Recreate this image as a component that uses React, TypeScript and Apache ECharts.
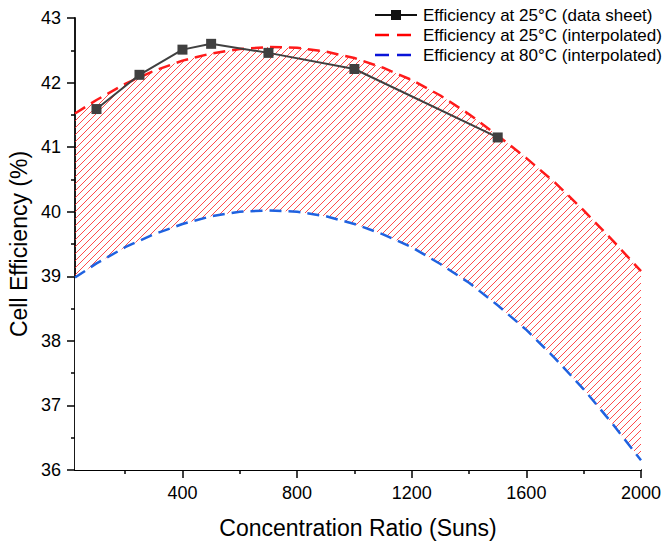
import React, { useEffect, useRef } from "react";
import * as echarts from "echarts";

// ---- data ----
const curveX = [25, 100, 200, 300, 400, 500, 600, 700, 800, 900, 1000, 1100, 1200, 1300, 1400, 1500, 1600, 1700, 1800, 1900, 2000];
const eff25Interp = [41.52, 41.73, 41.98, 42.18, 42.34, 42.45, 42.52, 42.55, 42.54, 42.48, 42.38, 42.23, 42.04, 41.8, 41.51, 41.18, 40.83, 40.45, 40.02, 39.56, 39.08];
const eff80Interp = [38.98, 39.2, 39.45, 39.65, 39.81, 39.93, 40.0, 40.02, 40.0, 39.93, 39.81, 39.65, 39.45, 39.19, 38.9, 38.55, 38.17, 37.73, 37.25, 36.72, 36.15];
const sheetX = [100, 250, 400, 500, 700, 1000, 1500];
const sheetEff = [41.59, 42.12, 42.51, 42.6, 42.46, 42.21, 41.15];
const xMajorTicks = [400, 800, 1200, 1600, 2000];
const xMinorTicks = [200, 600, 1000, 1400, 1800];
const seriesNames = [
  "Efficiency at 25°C (data sheet)",
  "Efficiency at 25°C (interpolated)",
  "Efficiency at 80°C (interpolated)",
];
const xTitle = "Concentration Ratio (Suns)";
const yTitle = "Cell Efficiency (%)";

const FONT = 'Arial, "Liberation Sans", sans-serif';
const RED = "#ff1a1a";
const BLUE = "#1f62e0";
const GREY = "#404040";

function makeHatch(): HTMLCanvasElement {
  const c = document.createElement("canvas");
  const s = 7;
  c.width = s;
  c.height = s;
  const ctx = c.getContext("2d")!;
  ctx.strokeStyle = "rgba(255,30,30,0.8)";
  ctx.lineWidth = 1;
  ctx.beginPath();
  ctx.moveTo(-1, s + 1);
  ctx.lineTo(s + 1, -1);
  ctx.moveTo(-1, 1);
  ctx.lineTo(1, -1);
  ctx.moveTo(s - 1, s + 1);
  ctx.lineTo(s + 1, s - 1);
  ctx.stroke();
  return c;
}

function legendGraphic() {
  const x0 = 375;
  const w = 42;
  const tx = 423;
  const rows = [15, 35, 55];
  const els: any[] = [];
  // row 1: solid line with square
  els.push({ type: "line", shape: { x1: x0, y1: rows[0], x2: x0 + w, y2: rows[0] }, style: { stroke: "#111", lineWidth: 2 } });
  els.push({ type: "rect", shape: { x: x0 + w / 2 - 5, y: rows[0] - 5, width: 10, height: 10 }, style: { fill: "#111" } });
  // row 2, 3: dashed
  els.push({ type: "line", shape: { x1: x0, y1: rows[1], x2: x0 + w, y2: rows[1] }, style: { stroke: "#ff0000", lineWidth: 2.5, lineDash: [14, 8] } });
  els.push({ type: "line", shape: { x1: x0, y1: rows[2], x2: x0 + w, y2: rows[2] }, style: { stroke: "#0a14d8", lineWidth: 2.5, lineDash: [14, 8] } });
  seriesNames.forEach((n, i) => {
    els.push({
      type: "text",
      x: tx,
      y: rows[i],
      style: { text: n, fill: "#000", font: `17px ${FONT}`, verticalAlign: "middle", align: "left" },
    });
  });
  return els;
}

export default function App() {
  const ref = useRef<HTMLDivElement>(null);
  useEffect(() => {
    if (!ref.current) return;
    const chart = echarts.init(ref.current, null, { renderer: "svg" });
    const hatch = makeHatch();
    const axisLineStyle = { color: "#000", width: 1.8 };
    const fmt = (v: number) => String(v);

    chart.setOption({
      animation: false,
      backgroundColor: "#fff",
      textStyle: { fontFamily: FONT },
      grid: { left: 75, right: 23, top: 18, bottom: 75, outerBoundsMode: "none" },
      graphic: legendGraphic(),
      xAxis: [
        {
          type: "value",
          min: 25,
          max: 2000,
          name: xTitle,
          nameLocation: "middle",
          nameGap: 46,
          nameTextStyle: { fontSize: 23, color: "#000", fontFamily: FONT },
          axisLine: { show: true, onZero: false, lineStyle: axisLineStyle },
          axisTick: { show: true, inside: false, length: 8, customValues: xMajorTicks, lineStyle: { color: "#000", width: 1.5 } },
          axisLabel: { show: true, customValues: xMajorTicks, formatter: fmt, margin: 14, fontSize: 18, color: "#000", fontFamily: FONT },
          splitLine: { show: false },
        },
        {
          type: "value",
          min: 25,
          max: 2000,
          position: "bottom",
          axisLine: { show: false, onZero: false },
          axisTick: { show: true, inside: false, length: 4, customValues: xMinorTicks, lineStyle: { color: "#000", width: 1.5 } },
          axisLabel: { show: false },
          splitLine: { show: false },
        },
      ],
      yAxis: {
        type: "value",
        min: 36,
        max: 43,
        interval: 1,
        name: yTitle,
        nameLocation: "middle",
        nameGap: 38,
        nameTextStyle: { fontSize: 23, color: "#000", fontFamily: FONT },
        axisLine: { show: true, onZero: false, lineStyle: axisLineStyle },
        axisTick: { show: true, inside: false, length: 8, lineStyle: { color: "#000", width: 1.5 } },
        minorTick: { show: true, splitNumber: 2, length: 4, lineStyle: { color: "#000", width: 1.5 } },
        axisLabel: { margin: 14, fontSize: 18, color: "#000", fontFamily: FONT, formatter: fmt },
        splitLine: { show: false },
        minorSplitLine: { show: false },
      },
      series: [
        {
          name: "hatch",
          type: "line",
          z: 1,
          symbol: "none",
          silent: true,
          data: curveX.map((x, i) => [x, eff25Interp[i]]),
          lineStyle: { width: 0, opacity: 0 },
          areaStyle: { color: { image: hatch, repeat: "repeat" }, opacity: 1, origin: "start" },
        },
        {
          name: "mask",
          type: "line",
          z: 2,
          symbol: "none",
          silent: true,
          data: curveX.map((x, i) => [x, eff80Interp[i]]),
          lineStyle: { width: 0, opacity: 0 },
          areaStyle: { color: "#ffffff", opacity: 1, origin: "start" },
        },
        {
          name: seriesNames[2],
          type: "line",
          z: 3,
          symbol: "none",
          data: curveX.map((x, i) => [x, eff80Interp[i]]),
          lineStyle: { color: BLUE, width: 2.5, type: [12, 7] },
          itemStyle: { color: BLUE },
        },
        {
          name: seriesNames[1],
          type: "line",
          z: 4,
          symbol: "none",
          data: curveX.map((x, i) => [x, eff25Interp[i]]),
          lineStyle: { color: RED, width: 2.5, type: [12, 7] },
          itemStyle: { color: RED },
        },
        {
          name: seriesNames[0],
          type: "line",
          z: 5,
          symbol: "rect",
          symbolSize: 10,
          data: sheetX.map((x, i) => [x, sheetEff[i]]),
          lineStyle: { color: GREY, width: 2 },
          itemStyle: { color: GREY },
        },
      ],
    });
    return () => chart.dispose();
  }, []);
  return (
    <div
      ref={ref}
      style={{ position: "fixed", left: 0, top: 0, width: 664, height: 545, background: "#fff" }}
    />
  );
}
